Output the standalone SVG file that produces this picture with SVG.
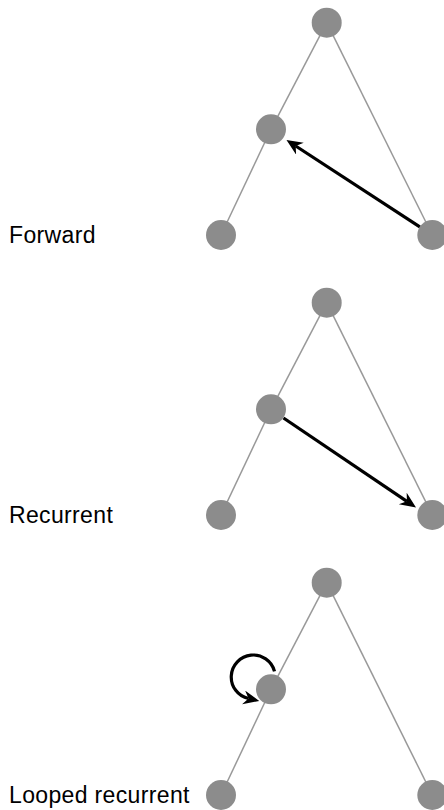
<svg xmlns="http://www.w3.org/2000/svg" width="444" height="810" viewBox="0 0 444 810">
<style>
.edge{stroke:#999;stroke-width:1.5;fill:none}
.node{fill:#8c8c8c}
.arrow{stroke:#000;stroke-width:3.2;fill:none;marker-end:url(#head)}
.label{font-family:"Liberation Sans",Arial,Helvetica,sans-serif;font-size:23px;letter-spacing:0.35px;fill:#000}
</style>
<defs>
<marker id="head" markerUnits="userSpaceOnUse" markerWidth="18" markerHeight="16" refX="5" refY="7" orient="auto">
<path d="M0,0 L16,7 L0,14 L5,7 Z" fill="#000"/>
</marker>
</defs>
<g id="edges">
<g transform="translate(0,0)">
<line class="edge" x1="326.7" y1="22.7" x2="271" y2="129.3"/>
<line class="edge" x1="271" y1="129.3" x2="221" y2="235"/>
<line class="edge" x1="326.7" y1="22.7" x2="432.3" y2="235"/>
</g>
<g transform="translate(0,280)">
<line class="edge" x1="326.7" y1="22.7" x2="271" y2="129.3"/>
<line class="edge" x1="271" y1="129.3" x2="221" y2="235"/>
<line class="edge" x1="326.7" y1="22.7" x2="432.3" y2="235"/>
</g>
<g transform="translate(0,560)">
<line class="edge" x1="326.7" y1="22.7" x2="271" y2="129.3"/>
<line class="edge" x1="271" y1="129.3" x2="221" y2="235"/>
<line class="edge" x1="326.7" y1="22.7" x2="432.3" y2="235"/>
</g>
</g>
<g id="p1-top"><circle class="node" cx="326.7" cy="22.7" r="15"/></g>
<g id="p1-mid"><circle class="node" cx="271" cy="129.3" r="15"/></g>
<g id="p1-bl"><circle class="node" cx="221" cy="235" r="15"/></g>
<g id="p1-br"><circle class="node" cx="432.3" cy="235" r="15"/></g>
<g id="p2-top"><circle class="node" cx="326.7" cy="302.7" r="15"/></g>
<g id="p2-mid"><circle class="node" cx="271" cy="409.3" r="15"/></g>
<g id="p2-bl"><circle class="node" cx="221" cy="515" r="15"/></g>
<g id="p2-br"><circle class="node" cx="432.3" cy="515" r="15"/></g>
<g id="p3-top"><circle class="node" cx="326.7" cy="582.7" r="15"/></g>
<g id="p3-mid"><circle class="node" cx="271" cy="689.3" r="15"/></g>
<g id="p3-bl"><circle class="node" cx="221" cy="795" r="15"/></g>
<g id="p3-br"><circle class="node" cx="432.3" cy="795" r="15"/></g>
<g id="connectors">
<path class="arrow" d="M419.8,226.8 L295.7,146"/>
<path class="arrow" d="M283.5,418 L406.9,501.3"/>
<path class="arrow" d="M274.5,671.3 A22,22 0 1 0 248.5,698.5"/>
</g>
<g id="labels">
<text class="label" x="9" y="243">Forward</text>
<text class="label" x="9" y="523">Recurrent</text>
<text class="label" x="9" y="803">Looped recurrent</text>
</g>
</svg>
